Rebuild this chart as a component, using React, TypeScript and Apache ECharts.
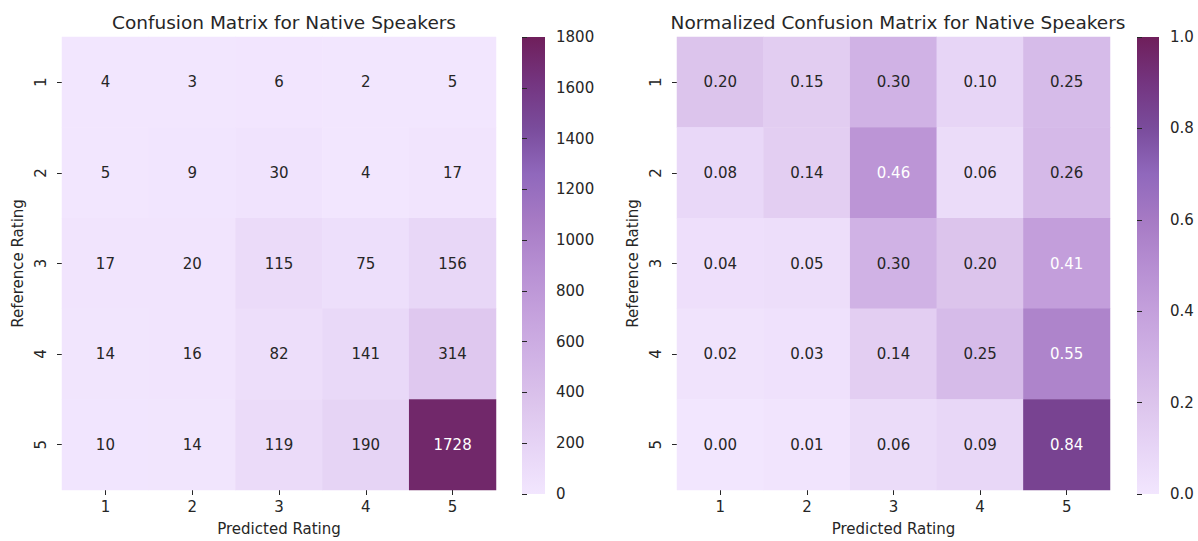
import React, { useEffect, useRef } from "react";
import * as echarts from "echarts";

const predictedLabels = ["1", "2", "3", "4", "5"];
const referenceLabels = ["1", "2", "3", "4", "5"];

const counts: number[][] = [
  [4, 3, 6, 2, 5],
  [5, 9, 30, 4, 17],
  [17, 20, 115, 75, 156],
  [14, 16, 82, 141, 314],
  [10, 14, 119, 190, 1728],
];

const normalized: number[][] = [
  [0.2, 0.15, 0.3, 0.1, 0.25],
  [0.08, 0.14, 0.46, 0.06, 0.26],
  [0.04, 0.05, 0.3, 0.2, 0.41],
  [0.02, 0.03, 0.14, 0.25, 0.55],
  [0.0, 0.01, 0.06, 0.09, 0.84],
];

const countMax = 1800;
const normMax = 1.0;
const countTicks = 200;
const normTicks = 0.2;

const palette = [
  "#f2e6fe",
  "#e7d5f6",
  "#dcc4ec",
  "#d0b2e5",
  "#c4a0dc",
  "#b68ed2",
  "#a67ac4",
  "#9068bc",
  "#7a4c9c",
  "#743580",
  "#6f1f5b",
];

const FONT = "DejaVu Sans";
const TEXT = "#262626";
const FS = 15;

function buildData(m: number[][], max: number, fmt: (v: number) => string) {
  const out: any[] = [];
  m.forEach((row, r) => {
    row.forEach((v, c) => {
      const frac = v / max;
      out.push({
        value: [c, r, v],
        label: { color: frac > 0.4 ? "#ffffff" : TEXT, formatter: fmt(v) },
      });
    });
  });
  return out;
}

export default function App() {
  const ref = useRef<HTMLDivElement>(null);
  useEffect(() => {
    if (!ref.current) return;
    const chart = echarts.init(ref.current, undefined, { renderer: "svg" });
    const stops = palette.map((c, i) => ({ offset: i / (palette.length - 1), color: c }));
    const grad = () => new echarts.graphic.LinearGradient(0, 1, 0, 0, stops);

    const catX = (gi: number) => ({
      type: "category",
      gridIndex: gi,
      data: predictedLabels,
      name: "Predicted Rating",
      nameLocation: "middle",
      nameGap: 31,
      nameTextStyle: { fontFamily: FONT, fontSize: FS, color: TEXT },
      axisLine: { show: false },
      axisTick: { show: true, alignWithLabel: true, length: 5, lineStyle: { color: TEXT } },
      axisLabel: { fontFamily: FONT, fontSize: FS, color: TEXT, margin: 9 },
      splitLine: { show: false },
    });
    const catY = (gi: number) => ({
      type: "category",
      gridIndex: gi,
      data: referenceLabels,
      inverse: true,
      name: "Reference Rating",
      nameLocation: "middle",
      nameGap: 37,
      nameTextStyle: { fontFamily: FONT, fontSize: FS, color: TEXT },
      axisLine: { show: false },
      axisTick: { show: true, alignWithLabel: true, length: 5, lineStyle: { color: TEXT } },
      axisLabel: { fontFamily: FONT, fontSize: FS, color: TEXT, rotate: 90, margin: 14 },
      splitLine: { show: false },
    });
    const cbX = (gi: number) => ({
      type: "value",
      gridIndex: gi,
      show: false,
    });
    const cbY = (gi: number, max: number, interval: number, dec: number) => ({
      type: "value",
      gridIndex: gi,
      min: 0,
      max,
      interval,
      position: "right",
      axisLine: { show: false },
      axisTick: { show: true, length: 5, lineStyle: { color: TEXT } },
      axisLabel: {
        fontFamily: FONT,
        fontSize: FS,
        color: TEXT,
        margin: 11,
        formatter: (v: number) => v.toFixed(dec),
      },
      splitLine: { show: false },
    });

    chart.setOption({
      animation: false,
      backgroundColor: "#ffffff",
      title: [
        {
          text: "Confusion Matrix for Native Speakers",
          left: 279,
          top: 8,
          textAlign: "center",
          textStyle: { fontFamily: FONT, fontSize: 18.5, fontWeight: "normal", color: TEXT },
        },
        {
          text: "Normalized Confusion Matrix for Native Speakers",
          left: 893,
          top: 8,
          textAlign: "center",
          textStyle: { fontFamily: FONT, fontSize: 18.5, fontWeight: "normal", color: TEXT },
        },
      ],
      grid: [
        { left: 62, top: 37, width: 434, height: 457 },
        { left: 677, top: 37, width: 433, height: 457 },
        { left: 522, top: 37, width: 23, height: 457, show: true, backgroundColor: grad(), borderWidth: 0 },
        { left: 1137, top: 37, width: 22, height: 457, show: true, backgroundColor: grad(), borderWidth: 0 },
      ],
      xAxis: [catX(0), catX(1), cbX(2), cbX(3)],
      yAxis: [catY(0), catY(1), cbY(2, countMax, countTicks, 0), cbY(3, normMax, normTicks, 1)],
      visualMap: [
        { type: "continuous", show: false, min: 0, max: countMax, seriesIndex: 0, inRange: { color: palette } },
        { type: "continuous", show: false, min: 0, max: normMax, seriesIndex: 1, inRange: { color: palette } },
      ],
      series: [
        {
          type: "heatmap",
          xAxisIndex: 0,
          yAxisIndex: 0,
          data: buildData(counts, countMax, (v) => String(v)),
          label: { show: true, fontFamily: FONT, fontSize: FS },
          itemStyle: { borderWidth: 0 },
          emphasis: { disabled: true },
        },
        {
          type: "heatmap",
          xAxisIndex: 1,
          yAxisIndex: 1,
          data: buildData(normalized, normMax, (v) => v.toFixed(2)),
          label: { show: true, fontFamily: FONT, fontSize: FS },
          itemStyle: { borderWidth: 0 },
          emphasis: { disabled: true },
        },
      ],
    });
    return () => chart.dispose();
  }, []);
  return (
    <div
      ref={ref}
      style={{ position: "fixed", left: 0, top: 0, width: 1198, height: 541 }}
    />
  );
}
